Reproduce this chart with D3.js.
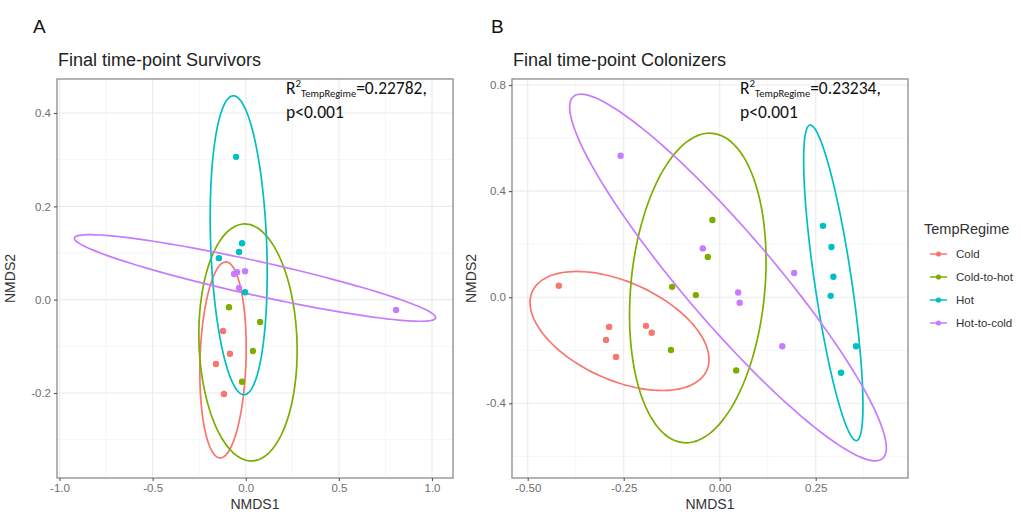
<!DOCTYPE html>
<html><head><meta charset="utf-8">
<script src="https://cdn.jsdelivr.net/npm/d3@7"></script>
<style>body{margin:0;background:#fff}</style>
</head><body><svg id="c" width="1021" height="514"></svg>
<script>
// ---------------- data ----------------
const groups = ["Cold", "Cold-to-hot", "Hot", "Hot-to-cold"];
const colors = ["#F8766D", "#7CAE00", "#00BFC4", "#C77CFF"];

// Panel A: Final time-point Survivors (NMDS1, NMDS2)
const survCold      = [[-0.122,-0.067],[-0.085,-0.116],[-0.160,-0.138],[-0.117,-0.202]];
const survColdToHot = [[-0.090,-0.016],[0.077,-0.048],[0.039,-0.110],[-0.020,-0.176]];
const survHot       = [[-0.052,0.306],[-0.020,0.121],[-0.036,0.102],[-0.144,0.089],[-0.004,0.016]];
const survHotToCold = [[-0.063,0.055],[-0.047,0.059],[-0.004,0.061],[-0.036,0.025],[0.807,-0.022]];

// Panel B: Final time-point Colonizers
const colCold       = [[-0.419,0.043],[-0.288,-0.112],[-0.296,-0.161],[-0.270,-0.225],[-0.192,-0.108],[-0.177,-0.134]];
const colColdToHot  = [[-0.019,0.291],[-0.031,0.152],[-0.124,0.039],[-0.062,0.008],[-0.127,-0.199],[0.043,-0.276]];
const colHot        = [[0.269,0.269],[0.291,0.189],[0.296,0.077],[0.289,0.005],[0.355,-0.185],[0.316,-0.285]];
const colHotToCold  = [[-0.258,0.533],[-0.044,0.184],[0.194,0.091],[0.048,0.018],[0.052,-0.021],[0.163,-0.185]];

// Ellipses (centre, half-axis vector u, half-axis vector v), in NMDS units
const survEllipses = [
  [-0.1221,-0.1292, 0.0161,0.2100, 0.1234,-0.0015],
  [ 0.0121,-0.0917,-0.0215,0.2539, 0.2629, 0.0035],
  [-0.0379, 0.1166,-0.0295,0.3203, 0.1502, 0.0022],
  [ 0.0497, 0.0465, 0.9697,-0.0857,-0.0198,-0.0356]
];
const colEllipses = [
  [-0.2609,-0.1274, 0.2270,-0.1490,-0.0526,-0.1678],
  [-0.0570, 0.0347, 0.0378, 0.5831, 0.1737,-0.0236],
  [ 0.2958, 0.0543,-0.0607, 0.5948, 0.0477, 0.0102],
  [ 0.0216, 0.0743, 0.4026,-0.6822,-0.0891,-0.1101]
];

const survXTicks = [-1.0,-0.5,0.0,0.5,1.0];
const survXMinor = [-0.75,-0.25,0.25,0.75];
const survYTicks = [-0.2,0.0,0.2,0.4];
const survYMinor = [-0.3,-0.1,0.1,0.3];
const colXTicks = [-0.50,-0.25,0.00,0.25];
const colXMinor = [-0.375,-0.125,0.125,0.375];
const colYTicks = [-0.4,0.0,0.4,0.8];
const colYMinor = [-0.6,-0.2,0.2,0.6];

const survStat = "0.22782";
const colStat = "0.23234";

// ---------------- drawing ----------------
const svg = d3.select("#c");
const baseFont = "'Liberation Sans', Arial, Helvetica, sans-serif";
const annFont = "Carlito, Lato, 'Open Sans', sans-serif";

function panel(opt) {
  const g = svg.append("g");
  const x = d3.scaleLinear().domain(opt.xdom).range(opt.xrng);
  const y = d3.scaleLinear().domain(opt.ydom).range(opt.yrng);
  const L = opt.box[0], R = opt.box[1], T = opt.box[2], B = opt.box[3];

  g.append("rect").attr("x", L).attr("y", T).attr("width", R - L).attr("height", B - T).attr("fill", "#fff");
  g.selectAll(".mx").data(opt.xminor).enter().append("line")
    .attr("x1", d => x(d)).attr("x2", d => x(d)).attr("y1", T).attr("y2", B)
    .attr("stroke", "#f4f4f4").attr("stroke-width", 0.8);
  g.selectAll(".my").data(opt.yminor).enter().append("line")
    .attr("y1", d => y(d)).attr("y2", d => y(d)).attr("x1", L).attr("x2", R)
    .attr("stroke", "#f4f4f4").attr("stroke-width", 0.8);
  g.selectAll(".gx").data(opt.xticks).enter().append("line")
    .attr("x1", d => x(d)).attr("x2", d => x(d)).attr("y1", T).attr("y2", B)
    .attr("stroke", "#ebebeb").attr("stroke-width", 1.1);
  g.selectAll(".gy").data(opt.yticks).enter().append("line")
    .attr("y1", d => y(d)).attr("y2", d => y(d)).attr("x1", L).attr("x2", R)
    .attr("stroke", "#ebebeb").attr("stroke-width", 1.1);

  const ts = d3.range(0, 360, 3).map(a => a * Math.PI / 180);
  const line = d3.line().x(p => x(p[0])).y(p => y(p[1])).curve(d3.curveCardinalClosed);
  opt.ellipses.forEach((e, i) => {
    const pts = ts.map(t => [e[0] + Math.cos(t) * e[2] + Math.sin(t) * e[4],
                             e[1] + Math.cos(t) * e[3] + Math.sin(t) * e[5]]);
    g.append("path").attr("d", line(pts)).attr("fill", "none")
      .attr("stroke", colors[i]).attr("stroke-width", 1.7);
  });

  opt.points.forEach((arr, i) => {
    g.selectAll(null).data(arr).enter().append("circle")
      .attr("cx", d => x(d[0])).attr("cy", d => y(d[1])).attr("r", 3.2)
      .attr("fill", colors[i]);
  });

  g.append("rect").attr("x", L).attr("y", T).attr("width", R - L).attr("height", B - T)
    .attr("fill", "none").attr("stroke", "#8c8c8c").attr("stroke-width", 1.3);

  const xa = d3.axisBottom(x).tickValues(opt.xticks).tickSize(3).tickPadding(3).tickFormat(opt.xfmt);
  const ya = d3.axisLeft(y).tickValues(opt.yticks).tickSize(3).tickPadding(3).tickFormat(d3.format(".1f"));
  const gx = g.append("g").attr("transform", `translate(0,${B})`).call(xa);
  const gy = g.append("g").attr("transform", `translate(${L},0)`).call(ya);
  [gx, gy].forEach(a => {
    a.select(".domain").remove();
    a.selectAll(".tick line").attr("stroke", "#555").attr("stroke-width", 1.1);
    a.selectAll(".tick text").attr("fill", "#6e6e6e").attr("font-size", 11.5).attr("font-family", baseFont);
  });
  gy.selectAll(".tick text").text(d => d3.format(".1f")(d).replace("−", "-"));
  gx.selectAll(".tick text").text(d => opt.xfmt(d).replace("−", "-"));

  g.append("text").attr("x", (L + R) / 2).attr("y", B + 31).attr("text-anchor", "middle")
    .attr("font-family", baseFont).attr("font-size", 14).attr("fill", "#333").text("NMDS1");
  g.append("text").attr("transform", `translate(${opt.ylabX},${(T + B) / 2}) rotate(-90)`)
    .attr("text-anchor", "middle").attr("font-family", baseFont).attr("font-size", 14)
    .attr("fill", "#333").text("NMDS2");

  g.append("text").attr("x", opt.letterX).attr("y", 33).attr("font-family", baseFont)
    .attr("font-size", 19).attr("fill", "#111").text(opt.letter);
  g.append("text").attr("x", L + 1).attr("y", 66).attr("font-family", baseFont)
    .attr("font-size", 18).attr("fill", "#222").text(opt.title);

  const ann = g.append("text").attr("x", opt.annX).attr("y", 93.5)
    .attr("font-family", annFont).attr("font-size", 17.5).attr("fill", "#111");
  ann.append("tspan").text("R");
  ann.append("tspan").attr("dy", -7).attr("font-size", 11).text("2");
  ann.append("tspan").attr("dy", 10).attr("font-size", 10.5).text("TempRegime");
  ann.append("tspan").attr("dy", -3).text("=" + opt.stat + ",");
  g.append("text").attr("x", opt.annX).attr("y", 117.5).attr("font-family", annFont)
    .attr("font-size", 17.5).attr("fill", "#111").text("p<0.001");
}

panel({
  xdom: [-1, 1], xrng: [59.5, 432], ydom: [-0.2, 0.4], yrng: [393, 113],
  box: [57, 453, 79, 478],
  xticks: survXTicks, xminor: survXMinor, yticks: survYTicks, yminor: survYMinor,
  xfmt: d3.format(".1f"),
  ellipses: survEllipses, points: [survCold, survColdToHot, survHot, survHotToCold],
  ylabX: 15, letter: "A", letterX: 33, title: "Final time-point Survivors",
  annX: 286, stat: survStat
});
panel({
  xdom: [-0.5, 0.25], xrng: [527.7, 815.7], ydom: [-0.4, 0.8], yrng: [403.3, 85],
  box: [512, 908, 79, 478],
  xticks: colXTicks, xminor: colXMinor, yticks: colYTicks, yminor: colYMinor,
  xfmt: d3.format(".2f"),
  ellipses: colEllipses, points: [colCold, colColdToHot, colHot, colHotToCold],
  ylabX: 476, letter: "B", letterX: 491, title: "Final time-point Colonizers",
  annX: 740, stat: colStat
});

// legend
const lg = svg.append("g");
lg.append("text").attr("x", 924).attr("y", 234).attr("font-family", baseFont)
  .attr("font-size", 14.5).attr("fill", "#333").text("TempRegime");
const ly = d3.scalePoint().domain(groups).range([254, 323]);
groups.forEach((gname, i) => {
  const yy = ly(gname);
  lg.append("line").attr("x1", 930).attr("x2", 947).attr("y1", yy).attr("y2", yy)
    .attr("stroke", colors[i]).attr("stroke-width", 1.5);
  lg.append("circle").attr("cx", 938.5).attr("cy", yy).attr("r", 2.6).attr("fill", colors[i]);
  lg.append("text").attr("x", 956).attr("y", yy + 4).attr("font-family", baseFont)
    .attr("font-size", 11.5).attr("fill", "#333").text(gname);
});
</script></body></html>
